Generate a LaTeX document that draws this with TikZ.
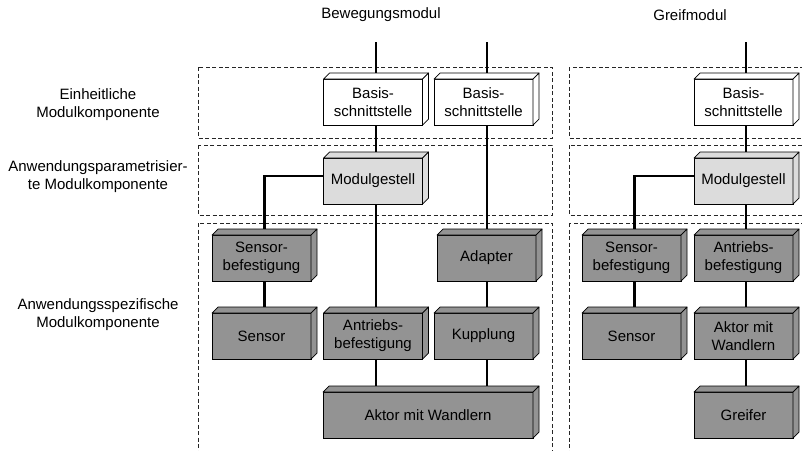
\documentclass[tikz,border=0pt]{standalone}
\usepackage{fontspec}
\setmainfont{Liberation Sans}
\usetikzlibrary{backgrounds}
\definecolor{boxgray}{HTML}{939393}
\definecolor{lightbox}{HTML}{DCDCDC}
% top and side faces of a block, drawn behind-right of its front face
\newcommand\blockfaces[2]{%
  \filldraw[fill=#2, draw=black, line width=0.7pt, line join=round]
    (#1.north west) -- ++(6pt,6pt) -- ([shift={(6pt,6pt)}]#1.north east) -- (#1.north east) -- cycle;
  \filldraw[fill=#2, draw=black, line width=0.7pt, line join=round]
    (#1.north east) -- ++(6pt,6pt) -- ([shift={(6pt,6pt)}]#1.south east) -- (#1.south east) -- cycle;
}
\begin{document}
\begin{tikzpicture}[x=1pt,y=-1pt,
  every node/.style={font=\fontsize{15}{18}\selectfont},
  block/.style={draw=black, line width=0.7pt, minimum height=46pt, minimum width=99pt,
                inner sep=0pt, outer sep=0pt, align=center},
  whitebox/.style={block, fill=white},
  lightblock/.style={block, fill=lightbox},
  graybox/.style={block, fill=boxgray},
  conn/.style={line width=2.2pt},
  zone/.style={draw=black!85, dash pattern=on 4pt off 2.5pt, line width=0.7pt},
  rowlabel/.style={align=center}
]
\useasboundingbox (0,0) rectangle (802,450);
\clip (0,0) rectangle (802,450);

% headings and row labels
\node (head1) at (381,15) {Bewegungsmodul};
\node (head2) at (690,15) {Greifmodul};
\node[rowlabel] (row1) at (98,105) {Einheitliche\\Modulkomponente};
\node[rowlabel] (row2) at (98,177) {Anwendungsparametrisier-\\te Modulkomponente};
\node[rowlabel] (row3) at (98,315) {Anwendungsspezifische\\Modulkomponente};

% Bewegungsmodul
\node[whitebox] (bs1) at (373,102) {Basis-\\schnittstelle};
\node[whitebox] (bs2) at (483.5,102) {Basis-\\schnittstelle};
\node[lightblock] (mg1) at (373,181) {Modulgestell};
\node[graybox] (sb1) at (261.5,258) {Sensor-\\befestigung};
\node[graybox] (ad1) at (486.5,258) {Adapter};
\node[graybox] (se1) at (261.5,336) {Sensor};
\node[graybox] (an1) at (373,336) {Antriebs-\\befestigung};
\node[graybox] (ku1) at (483.5,336) {Kupplung};
\node[graybox, minimum width=210pt] (ak1) at (428,415) {Aktor mit Wandlern};

% Greifmodul
\node[whitebox] (bs3) at (743.5,102) {Basis-\\schnittstelle};
\node[lightblock] (mg2) at (743.5,181) {Modulgestell};
\node[graybox] (sb2) at (631.5,258) {Sensor-\\befestigung};
\node[graybox] (an2) at (743.5,258) {Antriebs-\\befestigung};
\node[graybox] (se2) at (631.5,336) {Sensor};
\node[graybox] (ak2) at (743.5,336) {Aktor mit\\Wandlern};
\node[graybox] (gr2) at (743.5,415) {Greifer};

\blockfaces{bs1}{white}
\blockfaces{bs2}{white}
\blockfaces{mg1}{lightbox}
\blockfaces{sb1}{boxgray}
\blockfaces{ad1}{boxgray}
\blockfaces{se1}{boxgray}
\blockfaces{an1}{boxgray}
\blockfaces{ku1}{boxgray}
\blockfaces{ak1}{boxgray}
\blockfaces{bs3}{white}
\blockfaces{mg2}{lightbox}
\blockfaces{sb2}{boxgray}
\blockfaces{an2}{boxgray}
\blockfaces{se2}{boxgray}
\blockfaces{ak2}{boxgray}
\blockfaces{gr2}{boxgray}

% free ends of the incoming shafts
\coordinate (top1) at (376,42);
\coordinate (top2) at (487,42);
\coordinate (top3) at (746,42);

\begin{pgfonlayer}{background}
  % component rows
  \draw[zone] (198,67) rectangle (552,138);
  \draw[zone] (198,145) rectangle (552,215);
  \draw[zone] (198,223) rectangle (552,470);
  \draw[zone] (569,67) rectangle (830,138);
  \draw[zone] (569,145) rectangle (830,215);
  \draw[zone] (569,223) rectangle (830,470);

  % Bewegungsmodul connections
  \draw[conn] (top1) -- (bs1.north -| top1);
  \draw[conn] (bs1.south -| top1) -- (mg1.north -| top1);
  \draw[conn] (mg1.south -| top1) -- (an1.north -| top1);
  \draw[conn] (an1.south -| top1) -- (ak1.north -| top1);
  \draw[conn] (top2) -- (bs2.north -| top2);
  \draw[conn] (bs2.south -| top2) -- (ad1.north -| top2);
  \draw[conn] (ad1.south -| top2) -- (ku1.north -| top2);
  \draw[conn] (ku1.south -| top2) -- (ak1.north -| top2);
  \draw[conn] ([yshift=5pt]mg1.west) -| ([xshift=3pt]sb1.north);
  \draw[conn] ([xshift=3pt]sb1.south) -- ([xshift=3pt]se1.north);

  % Greifmodul connections
  \draw[conn] (top3) -- (bs3.north -| top3);
  \draw[conn] (bs3.south -| top3) -- (mg2.north -| top3);
  \draw[conn] (mg2.south -| top3) -- (an2.north -| top3);
  \draw[conn] (an2.south -| top3) -- (ak2.north -| top3);
  \draw[conn] (ak2.south -| top3) -- (gr2.north -| top3);
  \draw[conn] ([yshift=5pt]mg2.west) -| ([xshift=3pt]sb2.north);
  \draw[conn] ([xshift=3pt]sb2.south) -- ([xshift=3pt]se2.north);
\end{pgfonlayer}
\end{tikzpicture}
\end{document}
